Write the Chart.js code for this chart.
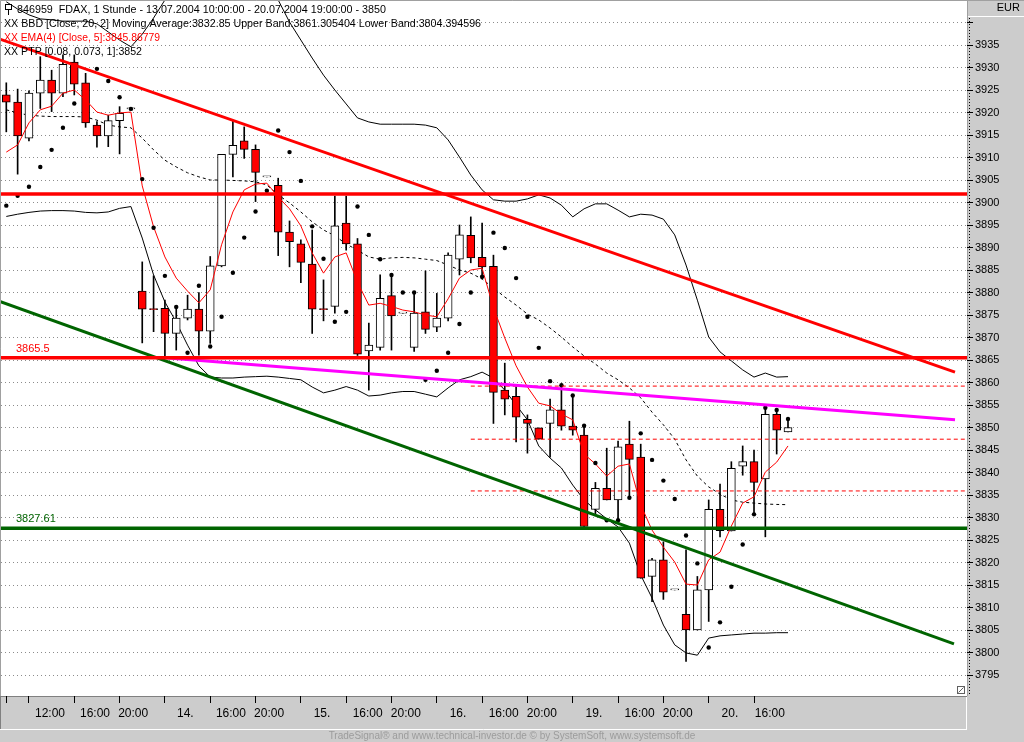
<!DOCTYPE html>
<html lang="de">
<head>
<meta charset="UTF-8">
<title>FDAX, 1 Stunde</title>
<script src="https://cdn.jsdelivr.net/npm/chart.js@4.4.1/dist/chart.umd.min.js"></script>
<style>
    html, body { margin: 0; padding: 0; background: #cccccc; }
    #wrap { width: 1024px; height: 742px; }
    canvas { display: block; }
</style>
</head>
<body>
<div id="wrap"><canvas id="chart" width="1024" height="742"></canvas></div>
<script>
    // Stundenkerzen 13.07.2004 10:00 - 20.07.2004 19:00 (12 Kerzen pro Tag)
    const opens = [3923.9, 3922.3, 3914.3, 3924.3, 3927.2, 3924.3, 3931.2, 3926.6, 3917.2, 3914.8, 3918.2, 3920.8,
        3880.3, 3876.4, 3876.5, 3870.9, 3874.3, 3876.3, 3871.4, 3885.9, 3910.7, 3913.7, 3911.8, 3905.7,
        3903.8, 3893.4, 3890.8, 3886.3, 3876.4, 3876.9, 3895.4, 3890.8, 3867.0, 3867.8, 3879.3, 3875.4,
        3867.8, 3875.7, 3872.3, 3874.3, 3887.4, 3892.7, 3887.8, 3885.8, 3858.3, 3856.9, 3851.8, 3849.9,
        3850.9, 3853.9, 3850.3, 3848.3, 3831.8, 3836.5, 3833.9, 3846.3, 3843.4, 3816.9, 3820.6, 3813.9,
        3808.5, 3805.0, 3813.9, 3831.8, 3827.0, 3841.4, 3842.4, 3838.6, 3852.9, 3849.0];
    const highs = [3926.6, 3925.2, 3924.8, 3932.4, 3929.4, 3932.8, 3932.8, 3928.7, 3918.0, 3919.4, 3921.3, 3920.8,
        3886.8, 3883.7, 3878.3, 3876.5, 3879.4, 3880.0, 3888.0, 3910.7, 3918.3, 3916.8, 3912.8, 3905.7,
        3905.4, 3895.9, 3891.7, 3893.9, 3882.8, 3901.4, 3901.4, 3892.0, 3873.2, 3883.9, 3883.9, 3875.4,
        3880.0, 3884.8, 3879.8, 3888.8, 3895.0, 3896.8, 3895.4, 3888.3, 3864.3, 3859.1, 3852.8, 3849.9,
        3856.3, 3859.4, 3857.0, 3850.3, 3837.8, 3845.4, 3847.0, 3851.4, 3846.3, 3820.9, 3824.6, 3813.9,
        3822.8, 3816.9, 3833.9, 3837.4, 3842.4, 3845.9, 3845.0, 3854.6, 3854.0, 3851.7];
    const lows = [3915.7, 3906.3, 3913.7, 3920.9, 3920.2, 3923.5, 3923.9, 3916.7, 3912.3, 3912.4, 3910.8, 3920.8,
        3868.8, 3871.3, 3865.7, 3867.2, 3873.9, 3866.1, 3868.7, 3885.7, 3905.7, 3909.8, 3900.2, 3905.7,
        3888.2, 3885.7, 3882.2, 3870.9, 3873.7, 3875.4, 3889.4, 3866.0, 3858.3, 3867.2, 3867.2, 3875.4,
        3866.9, 3870.9, 3871.3, 3873.7, 3883.9, 3886.6, 3883.0, 3850.9, 3852.8, 3846.8, 3844.3, 3847.4,
        3843.4, 3849.4, 3848.3, 3828.0, 3830.8, 3833.9, 3829.4, 3834.3, 3816.5, 3811.3, 3811.8, 3813.9,
        3798.0, 3805.0, 3806.9, 3825.7, 3827.0, 3839.4, 3830.9, 3825.7, 3844.1, 3849.0];
    const closes = [3922.3, 3914.8, 3924.3, 3927.2, 3924.3, 3930.7, 3926.3, 3917.7, 3914.8, 3918.2, 3919.8, 3920.8,
        3876.3, 3876.2, 3870.9, 3874.3, 3876.3, 3871.4, 3885.9, 3910.7, 3912.7, 3911.8, 3906.7, 3905.7,
        3893.4, 3891.3, 3886.7, 3876.3, 3876.2, 3894.8, 3890.8, 3866.3, 3868.3, 3878.7, 3874.8, 3875.4,
        3875.4, 3871.8, 3874.3, 3888.3, 3892.8, 3887.7, 3885.7, 3857.8, 3856.3, 3852.3, 3850.9, 3847.4,
        3853.9, 3850.3, 3849.4, 3828.0, 3836.5, 3833.9, 3845.7, 3842.9, 3816.5, 3820.6, 3813.4, 3813.9,
        3805.0, 3813.9, 3831.8, 3827.1, 3840.9, 3842.4, 3837.8, 3852.9, 3849.4, 3850.0];

    // PTP Punkte
    const ptp = [3899.3, 3901.5, 3903.5, 3907.9, 3911.7, 3916.6, 3922.0, null, 3929.7, 3927.0, 3923.4, 3920.8,
        3905.2, 3894.4, 3883.7, 3876.8, 3866.6, 3881.5, 3868.0, 3874.6, 3884.4, 3892.2, 3898.0, 3902.6,
        3916.0, 3911.2, 3904.8, 3894.7, 3887.5, 3873.5, 3875.7, 3899.1, 3892.8, 3887.4, 3883.9, 3880.0,
        3880.0, 3860.6, 3862.6, 3866.6, 3873.0, 3880.0, 3883.5, 3893.3, 3889.9, 3883.2, 3874.6, 3867.7,
        3860.3, 3859.4, 3857.1, 3850.4, 3842.1, 3829.4, 3829.4, 3834.4, 3848.7, 3842.8, 3838.2, 3834.1,
        3826.0, 3819.8, 3801.1, 3806.7, 3814.6, 3824.0, 3830.7, 3854.4, 3853.9, 3851.9];

    // EMA(4)
    const ema = [3911.2, 3912.8, 3917.7, 3920.6, 3921.4, 3924.3, 3925.0, 3922.8, 3920.1, 3919.4, 3919.9, 3920.1,
        3903.7, 3894.6, 3887.9, 3883.2, 3880.3, 3877.7, 3880.6, 3890.6, 3897.9, 3902.8, 3904.1, 3904.3,
        3901.2, 3898.6, 3894.8, 3888.8, 3884.3, 3887.9, 3888.8, 3882.3, 3877.2, 3877.6, 3876.9, 3876.1,
        3875.7, 3875.0, 3874.6, 3878.6, 3883.2, 3885.0, 3885.4, 3876.6, 3869.9, 3863.7, 3859.0, 3855.4,
        3854.8, 3853.0, 3851.7, 3844.1, 3841.9, 3839.2, 3841.4, 3841.9, 3832.8, 3827.2, 3823.4, 3820.1,
        3815.2, 3815.0, 3820.6, 3822.3, 3828.1, 3833.2, 3834.6, 3840.1, 3842.3, 3845.9];

    // Bollinger (20, 2)
    const bbMid = [3920.6, 3919.9, 3919.4, 3919.2, 3919.1, 3919.1, 3919.1, 3919.0, 3918.3, 3917.2, 3916.8, 3916.6,
        3914.3, 3911.7, 3909.4, 3907.9, 3906.6, 3905.7, 3905.0, 3905.0, 3904.9, 3904.8, 3904.6, 3903.9,
        3901.7, 3899.9, 3897.9, 3895.7, 3893.9, 3892.6, 3890.8, 3889.4, 3887.9, 3887.4, 3887.7, 3887.8,
        3887.7, 3887.4, 3887.1, 3886.1, 3885.0, 3884.3, 3883.0, 3881.0, 3879.0, 3877.2, 3875.2, 3873.9,
        3872.1, 3870.1, 3867.9, 3865.9, 3864.1, 3862.1, 3860.6, 3858.8, 3856.6, 3853.4, 3850.6, 3847.4,
        3842.8, 3839.2, 3836.8, 3835.2, 3833.9, 3833.4, 3833.2, 3833.0, 3832.9, 3832.85];
    const bbUpper = [3944.6, 3943.0, 3941.7, 3940.8, 3940.6, 3940.3, 3940.3, 3940.3, 3939.7, 3937.9, 3936.1, 3934.6,
        3937.4, 3941.0, 3945.0, 3947.2, 3949.9, 3951.7, 3952.6, 3952.8, 3952.6, 3951.7, 3950.3, 3948.1,
        3945.0, 3940.1, 3936.1, 3932.1, 3928.3, 3925.0, 3921.9, 3918.8, 3917.9, 3917.4, 3917.4, 3917.4,
        3917.4, 3917.2, 3916.6, 3913.9, 3910.1, 3906.1, 3902.8, 3900.6, 3900.3, 3900.3, 3900.8, 3901.7,
        3901.0, 3899.4, 3896.8, 3898.6, 3899.7, 3899.7, 3898.3, 3896.8, 3897.4, 3897.2, 3896.3, 3892.8,
        3886.1, 3878.3, 3870.1, 3866.8, 3864.8, 3862.8, 3861.2, 3862.1, 3861.2, 3861.3];
    const bbLower = [3896.9, 3897.4, 3897.8, 3898.1, 3898.2, 3898.2, 3898.1, 3897.8, 3897.7, 3897.9, 3898.7, 3899.1,
        3892.1, 3883.9, 3877.9, 3873.4, 3868.3, 3863.7, 3861.2, 3861.0, 3861.0, 3861.2, 3861.3, 3861.4,
        3861.2, 3860.9, 3860.6, 3859.0, 3857.7, 3858.3, 3859.1, 3858.3, 3857.0, 3857.2, 3857.7, 3858.0,
        3858.0, 3857.4, 3856.8, 3858.8, 3860.6, 3861.3, 3862.3, 3861.0, 3858.3, 3855.0, 3851.7, 3845.9,
        3843.2, 3841.0, 3837.2, 3833.9, 3831.7, 3829.7, 3827.9, 3824.3, 3817.2, 3812.1, 3806.1, 3801.7,
        3799.9, 3799.4, 3803.2, 3803.7, 3803.9, 3804.1, 3804.3, 3804.3, 3804.4, 3804.4];

    // Linien (Kurs am Anfang / Ende)
    const redTrend = [3936.3, 3862.3];
    const greenTrend = [3878.0, 3801.9];
    const magentaTrend = [3865.5, 3851.7];
    const redLevels = [3901.9, 3865.5];
    const greenLevel = 3827.61;
    const dashLevels = [3859.2, 3847.4, 3835.9];

    // Achsen
    const yTicks = [];
    for (let v = 3795; v <= 3940; v += 5) yTicks.push(v);
    const xLabels = ['12:00', '16:00', '20:00', '14.', '16:00', '20:00', '15.', '16:00', '20:00',
        '16.', '16:00', '20:00', '19.', '16:00', '20:00', '20.', '16:00'];
    const xLabelAt = [3.86, 7.83, 11.2, 15.8, 19.83, 23.2, 27.87, 31.9, 35.27,
        39.87, 43.9, 47.27, 51.87, 55.9, 59.27, 63.87, 67.4];
    const xTickMarks = [0];
    for (let v = 2; v <= 66; v += 4) xTickMarks.push(v);

    // Massstab wie im Original: 11.33 px pro Kerze, 4.5 px pro Punkt
    const barPx = 11.329, firstBarPx = 6.3;
    const ptPx = 4.5, priceAtTop = 3945;

    const idx = opens.map((_, i) => i);

    function pts(arr) {
        return arr.map((v, i) => ({ x: i, y: v }));
    }
    function seg(x0, x1, y0, y1, color, width, dash) {
        return {
            type: 'line', data: [{ x: x0, y: y0 }, { x: x1, y: y1 }],
            borderColor: color, borderWidth: width, borderDash: dash || [],
            pointRadius: 0, order: 0, clip: 0
        };
    }

    const datasets = [
        seg(-0.56, 83.74, redTrend[0], redTrend[1], '#ff0000', 3),
        seg(-2, 90, redLevels[0], redLevels[0], '#ff0000', 3.5),
        seg(-2, 90, redLevels[1], redLevels[1], '#ff0000', 3.5),
        seg(-2, 90, greenLevel, greenLevel, '#006400', 3.5),
        seg(-0.56, 83.65, greenTrend[0], greenTrend[1], '#006400', 3),
        seg(14.0, 83.74, magentaTrend[0], magentaTrend[1], '#ff00ff', 3),
        ...dashLevels.map(l => seg(41.0, 90, l, l, '#ff0000', 1, [4, 3])),
        {
            type: 'line', data: pts(ptp), showLine: false,
            pointRadius: 2.2, pointBackgroundColor: '#000', pointBorderWidth: 0, order: 1
        },
        {
            type: 'line', data: pts(ema), borderColor: '#ff0000', borderWidth: 1,
            pointRadius: 0, order: 2
        },
        {
            type: 'bar', data: idx.map(i => ({ x: i, y: [opens[i], closes[i]] })),
            backgroundColor: idx.map(i => closes[i] < opens[i] ? '#ff0000' : '#ffffff'),
            borderColor: '#000', borderWidth: 1, borderSkipped: false,
            barThickness: 8, minBarLength: 1, grouped: false, order: 3
        },
        {
            type: 'bar', data: idx.map(i => ({ x: i, y: [lows[i], highs[i]] })),
            backgroundColor: '#000', borderWidth: 0,
            barThickness: 1, grouped: false, order: 4
        },
        {
            type: 'line', data: pts(bbUpper), borderColor: '#000', borderWidth: 1,
            pointRadius: 0, order: 5
        },
        {
            type: 'line', data: pts(bbLower), borderColor: '#000', borderWidth: 1,
            pointRadius: 0, order: 5
        },
        {
            type: 'line', data: pts(bbMid), borderColor: '#000', borderWidth: 1, borderDash: [3, 3],
            pointRadius: 0, order: 5
        }
    ];

    const frame = {
        id: 'frame',
        beforeDraw(chart) {
            const ctx = chart.ctx, a = chart.chartArea;
            ctx.save();
            ctx.fillStyle = '#cccccc';
            ctx.fillRect(0, 0, 1024, 742);
            ctx.fillStyle = '#ffffff';
            ctx.fillRect(a.left, a.top, a.right - a.left, a.bottom - a.top);
            ctx.strokeStyle = '#a0a0a0';
            ctx.lineWidth = 1;
            ctx.beginPath();
            ctx.moveTo(0.5, a.bottom); ctx.lineTo(0.5, 0.5); ctx.lineTo(1024, 0.5);
            ctx.moveTo(a.right + 0.5, 0); ctx.lineTo(a.right + 0.5, a.bottom);
            ctx.stroke();
            // untere Leiste
            ctx.strokeStyle = '#808080';
            ctx.beginPath();
            ctx.moveTo(0, a.bottom + 0.5); ctx.lineTo(a.right, a.bottom + 0.5);
            ctx.moveTo(0.5, a.bottom); ctx.lineTo(0.5, 729);
            ctx.stroke();
            ctx.strokeStyle = '#ffffff';
            ctx.beginPath();
            ctx.moveTo(0, 729.5); ctx.lineTo(a.right, 729.5);
            ctx.moveTo(a.right - 0.5, a.bottom + 1); ctx.lineTo(a.right - 0.5, 729.5);
            ctx.moveTo(a.right + 1, 16.5); ctx.lineTo(1024, 16.5);
            ctx.stroke();
            ctx.strokeStyle = '#000';
            ctx.setLineDash([1, 2]);
            ctx.beginPath();
            ctx.moveTo(a.right + 2.5, 18); ctx.lineTo(a.right + 2.5, a.bottom);
            ctx.stroke();
            ctx.restore();
        },
        afterDraw(chart) {
            const ctx = chart.ctx, y = chart.scales.y, a = chart.chartArea;
            ctx.save();
            ctx.textBaseline = 'middle';
            ctx.font = '11px "Liberation Sans", Arial, sans-serif';
            ctx.fillStyle = '#000';
            ctx.fillText('846959  FDAX, 1 Stunde - 13.07.2004 10:00:00 - 20.07.2004 19:00:00 - 3850', 17, 10, 369);
            ctx.fillText('XX BBD [Close, 20, 2] Moving Average:3832.85 Upper Band:3861.305404 Lower Band:3804.394596', 4, 24, 477);
            ctx.fillText('XX PTP [0.08, 0.073, 1]:3852', 4, 51.5, 138);
            ctx.fillStyle = '#ff0000';
            ctx.fillText('XX EMA(4) [Close, 5]:3845.86779', 4, 37.5, 156);
            ctx.fillText('3865.5', 16, y.getPixelForValue(redLevels[1]) - 8.5);
            ctx.fillStyle = '#006400';
            ctx.fillText('3827.61', 16, y.getPixelForValue(greenLevel) - 9);
            // kleines Symbol vor der Kopfzeile
            ctx.strokeStyle = '#000';
            ctx.lineWidth = 1;
            ctx.strokeRect(5.5, 4.5, 6, 5);
            ctx.beginPath();
            ctx.moveTo(8.5, 9.5); ctx.lineTo(8.5, 15);
            ctx.stroke();
            // Eckensymbol unten rechts
            ctx.strokeStyle = '#606060';
            ctx.strokeRect(a.right - 9.5, a.bottom - 9.5, 7, 7);
            ctx.beginPath();
            ctx.moveTo(a.right - 8.5, a.bottom - 3.5); ctx.lineTo(a.right - 3.5, a.bottom - 8.5);
            ctx.stroke();
            ctx.fillStyle = '#000';
            ctx.textAlign = 'right';
            ctx.fillText('EUR', 1020, 8);
            ctx.textAlign = 'center';
            ctx.fillStyle = '#9c9c9c';
            ctx.font = '10px "Liberation Sans Narrow", "Liberation Sans", Arial, sans-serif';
            ctx.fillText('TradeSignal\u00ae and www.technical-investor.de \u00a9 by SystemSoft, www.systemsoft.de', 512, 736);
            ctx.restore();
        }
    };

    const noPad = s => { s.paddingLeft = 0; s.paddingRight = 0; s.paddingTop = 0; s.paddingBottom = 0; };

    const chart = new Chart(document.getElementById('chart'), {
        type: 'line',
        data: { datasets: datasets },
        options: {
            responsive: false,
            devicePixelRatio: 1,
            animation: false,
            layout: { autoPadding: false, padding: { left: 1, top: 1, right: 0, bottom: 0 } },
            plugins: { legend: { display: false }, tooltip: { enabled: false } },
            scales: {
                x2: {
                    type: 'linear', position: 'bottom', min: -0.47, max: 84.8, offset: false, weight: 1,
                    grid: { display: true, drawOnChartArea: false, drawTicks: true, tickLength: 7, tickColor: '#000', offset: false },
                    border: { display: false },
                    ticks: { display: false, autoSkip: false },
                    afterBuildTicks: s => { s.ticks = xTickMarks.map(v => ({ value: v })); },
                    afterFit: s => { s.height = 10; noPad(s); }
                },
                x: {
                    type: 'linear', position: 'bottom', min: -0.47, max: 84.8, offset: false, weight: 2,
                    grid: { display: false, drawTicks: false, offset: false },
                    border: { display: false },
                    ticks: {
                        autoSkip: false, maxRotation: 0, padding: 0, color: '#000',
                        font: { family: '"Liberation Sans Narrow", "Liberation Sans", Arial', size: 12 },
                        callback: (v, i) => xLabels[i]
                    },
                    afterBuildTicks: s => { s.ticks = xLabelAt.map(v => ({ value: v })); },
                    afterFit: s => { s.height = 36; noPad(s); }
                },
                y: {
                    type: 'linear', position: 'right', min: 3790.33, max: 3944.78,
                    grid: { color: '#8c8c8c', lineWidth: 1, drawTicks: true, tickLength: 6, tickColor: '#000', tickBorderDash: [] },
                    border: { display: false, dash: [1, 3] },
                    ticks: {
                        color: '#000', padding: 2,
                        font: { family: '"Liberation Sans", Arial', size: 11 },
                        callback: v => (v > 3935 ? '' : String(v))
                    },
                    afterBuildTicks: s => { s.ticks = yTicks.map(v => ({ value: v })); },
                    afterFit: s => { s.width = 57; noPad(s); }
                }
            }
        },
        plugins: [frame]
    });

    // Achsenbereich an den Massstab des Originals anpassen
    const a = chart.chartArea;
    const sc = chart.options.scales;
    sc.x.min = sc.x2.min = (a.left - firstBarPx) / barPx;
    sc.x.max = sc.x2.max = (a.right - firstBarPx) / barPx;
    sc.y.max = priceAtTop - a.top / ptPx;
    sc.y.min = priceAtTop - a.bottom / ptPx;
    chart.update();
</script>
</body>
</html>
